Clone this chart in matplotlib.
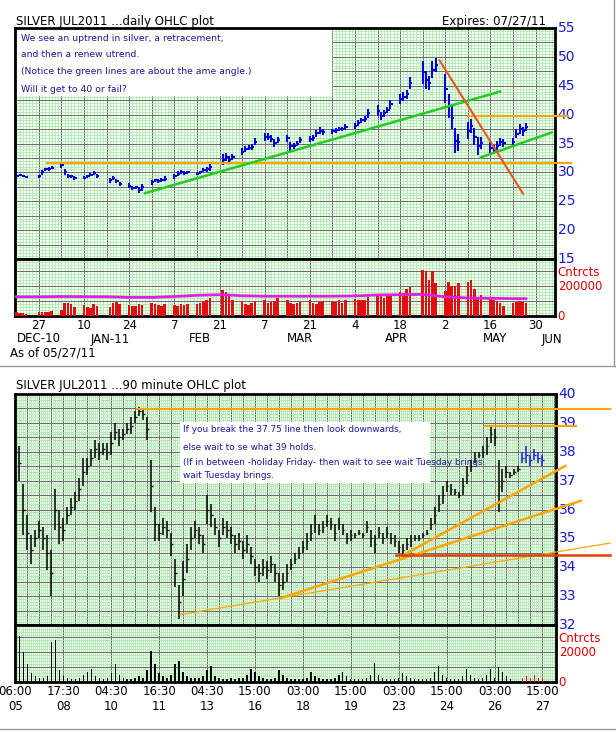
import matplotlib
matplotlib.use("Agg")
import matplotlib.pyplot as plt
import matplotlib.transforms as mtransforms
from matplotlib.ticker import MultipleLocator
import pandas as pd
import numpy as np

W, H = 616, 732
# ---------------- daily data ----------------
holidays = ["2010-12-24", "2011-01-17", "2011-02-21", "2011-04-22"]
dates = [d for d in pd.bdate_range("2010-12-20", "2011-05-27") if d.strftime("%Y-%m-%d") not in holidays]
daily_close = [29.4, 29.5, 29.4, 29.2,
               29.3, 30.0, 30.5, 30.6, 30.8,
               31.2, 30.0, 29.4, 29.3, 29.0,
               29.1, 29.3, 29.6, 29.9, 29.4,
               28.6, 29.0, 28.5, 28.0,
               27.7, 27.3, 27.4, 27.0, 27.4,
               28.3, 28.6, 28.5, 28.7, 28.9,
               29.3, 29.8, 30.1, 29.9, 30.0,
               29.8, 30.0, 30.4, 30.5, 30.9,
               32.2, 32.6, 32.2, 32.7,
               33.6, 34.0, 34.3, 34.4, 35.3,
               36.1, 36.2, 35.8, 35.1, 35.6,
               35.9, 34.5, 34.6, 35.0, 35.6,
               35.8, 36.0, 36.8, 37.2, 37.0,
               37.1, 37.3, 37.5, 37.5, 37.8,
               38.0, 38.6, 39.0, 39.2, 40.2,
               40.7, 39.8, 40.2, 40.8, 41.8,
               42.7, 43.1, 43.5, 45.5,
               47.3, 46.0, 45.5, 47.8, 48.6,
               44.5, 41.5, 39.5, 35.5, 35.2,
               37.2, 38.0, 36.2, 34.6, 35.1,
               34.2, 33.9, 34.6, 35.2, 35.1,
               35.2, 36.7, 37.5, 37.1, 37.9]
daily_half = [0.2, 0.2, 0.2, 0.2,
              0.3, 0.4, 0.3, 0.3, 0.3,
              0.5, 0.5, 0.4, 0.3, 0.3,
              0.3, 0.3, 0.3, 0.3, 0.4,
              0.5, 0.4, 0.4, 0.4,
              0.4, 0.4, 0.3, 0.5, 0.6,
              0.4, 0.3, 0.3, 0.3, 0.4,
              0.4, 0.4, 0.3, 0.3, 0.3,
              0.3, 0.3, 0.3, 0.4, 0.7,
              0.9, 0.7, 0.6, 0.5,
              0.6, 0.5, 0.5, 0.5, 0.6,
              0.7, 0.6, 0.6, 0.7, 0.5,
              0.6, 0.8, 0.5, 0.5, 0.5,
              0.5, 0.5, 0.6, 0.6, 0.5,
              0.4, 0.4, 0.4, 0.4, 0.5,
              0.5, 0.5, 0.5, 0.5, 0.7,
              0.9, 0.7, 0.6, 0.6, 0.8,
              0.8, 0.8, 0.8, 1.0,
              2.0, 1.5, 1.2, 1.5, 1.2,
              2.5, 2.0, 2.0, 2.2, 1.5,
              1.5, 1.2, 1.5, 1.6, 1.0,
              1.0, 0.8, 0.8, 0.7, 0.7,
              0.7, 0.8, 0.9, 0.8, 0.7]
daily_vol = [25, 20, 22, 15,
             30, 25, 25, 28, 35,
             40, 90, 85, 80, 60,
             75, 60, 55, 80, 65,
             60, 90, 95, 80,
             75, 70, 70, 80, 75,
             85, 80, 75, 70, 80,
             75, 70, 80, 75, 80,
             80, 85, 100, 105, 120,
             175, 160, 140, 110,
             100, 80, 75, 90, 100,
             105, 90, 95, 100, 120,
             110, 90, 80, 90, 95,
             105, 85, 80, 95, 100,
             100, 95, 105, 90, 110,
             115, 110, 105, 110, 125,
             140, 140, 120, 140, 150,
             160, 155, 180, 195,
             310, 300, 240, 300, 220,
             170, 230, 200, 200, 220,
             225, 240, 180, 130, 140,
             120, 110, 100, 90, 70,
             90, 95, 100, 95, 90]
avg_dates = pd.to_datetime(["2010-12-20", "2010-12-27", "2011-01-03", "2011-01-10", "2011-01-18", "2011-01-24",
                            "2011-01-31", "2011-02-07", "2011-02-14", "2011-02-22", "2011-02-28", "2011-03-07",
                            "2011-03-14", "2011-03-21", "2011-03-28", "2011-04-04", "2011-04-11", "2011-04-18",
                            "2011-04-25", "2011-05-02", "2011-05-09", "2011-05-16", "2011-05-23", "2011-05-27"])
avg_vals = [128, 128, 130, 129, 128, 124, 124, 130, 138, 142, 135, 132,
            132, 132, 132, 134, 140, 142, 144, 128, 120, 118, 116, 116]

# ---------------- 90 minute data ----------------
m_close = [38.0, 37.6, 36.0, 35.2, 34.6, 35.0, 35.3, 35.0, 34.5, 33.8,
           36.0, 35.4, 35.3, 35.8, 36.1, 36.3, 36.7, 37.3, 37.5, 37.8,
           38.1, 38.0, 38.1, 38.0, 38.3, 38.7, 38.5, 38.6, 38.8, 38.9,
           39.2, 39.4, 39.3, 38.8, 36.8, 35.5, 35.2, 35.4, 35.3, 34.8,
           33.8, 32.8, 33.6, 34.3, 35.0, 35.3, 35.1, 34.8, 36.0, 35.8,
           35.4, 35.0, 35.4, 35.3, 35.1, 34.8, 34.9, 34.6, 34.8, 34.4,
           34.0, 33.8, 34.0, 33.9, 34.1, 33.8, 33.4, 33.5, 33.8, 34.1,
           34.3, 34.5, 34.7, 34.9, 35.2, 35.5, 35.3, 35.4, 35.6, 35.5,
           35.2, 35.5, 35.3, 35.0, 35.1, 35.1, 35.2, 35.1, 35.4, 35.0,
           34.8, 35.2, 35.0, 35.2, 35.0, 34.9, 34.7, 34.6, 34.8, 34.9,
           35.0, 35.0, 35.1, 35.2, 35.5, 35.8, 36.2, 36.5, 36.8, 36.7,
           36.6, 36.5, 36.8, 37.2, 37.5, 37.8, 37.9, 38.0, 38.2, 38.6,
           38.5, 36.8, 37.0, 37.3, 37.2, 37.3, 37.4, 37.8, 37.9, 37.7,
           37.9, 37.8, 37.7]
m_half = [0.25, 0.6, 0.9, 0.6, 0.5, 0.3, 0.3, 0.4, 0.6, 0.8,
          0.7, 0.6, 0.4, 0.3, 0.3, 0.3, 0.4, 0.5, 0.3, 0.3,
          0.3, 0.3, 0.2, 0.3, 0.4, 0.3, 0.3, 0.2, 0.2, 0.3,
          0.2, 0.15, 0.2, 0.4, 0.9, 0.6, 0.3, 0.3, 0.3, 0.4,
          0.5, 0.6, 0.6, 0.5, 0.4, 0.3, 0.3, 0.3, 0.5, 0.4,
          0.3, 0.3, 0.3, 0.3, 0.3, 0.3, 0.3, 0.3, 0.3, 0.3,
          0.3, 0.3, 0.3, 0.3, 0.3, 0.3, 0.4, 0.3, 0.3, 0.2,
          0.2, 0.2, 0.2, 0.3, 0.3, 0.3, 0.2, 0.2, 0.2, 0.2,
          0.3, 0.2, 0.2, 0.2, 0.2, 0.1, 0.1, 0.1, 0.2, 0.3,
          0.3, 0.2, 0.2, 0.2, 0.2, 0.2, 0.2, 0.2, 0.2, 0.2,
          0.1, 0.1, 0.1, 0.1, 0.2, 0.3, 0.3, 0.3, 0.2, 0.2,
          0.1, 0.1, 0.3, 0.3, 0.2, 0.2, 0.1, 0.2, 0.3, 0.3,
          0.3, 0.9, 0.4, 0.2, 0.1, 0.1, 0.1, 0.2, 0.3, 0.2,
          0.2, 0.2, 0.2]
m_vol = [8, 31, 20, 12, 6, 4, 3, 3, 4, 27,
         28, 8, 4, 3, 2, 2, 3, 5, 7, 9,
         4, 3, 2, 3, 6, 12, 5, 3, 2, 2,
         3, 4, 3, 8, 21, 12, 6, 4, 3, 5,
         12, 14, 7, 4, 3, 3, 3, 4, 8, 11,
         4, 3, 2, 2, 3, 2, 3, 3, 5, 9,
         7, 4, 3, 2, 2, 3, 8, 5, 3, 2,
         2, 2, 2, 3, 7, 4, 3, 2, 2, 2,
         3, 5, 7, 4, 2, 2, 2, 2, 3, 5,
         13, 5, 3, 2, 2, 2, 3, 6, 4, 3,
         2, 2, 2, 2, 3, 7, 11, 5, 3, 2,
         2, 2, 4, 9, 5, 3, 2, 3, 5, 9,
         3, 10, 7, 4, 2, 1, 1, 3, 4, 3,
         5, 3, 2]
m_labels = ["06:00\n05", "17:30\n08", "04:30\n10", "16:30\n11", "04:30\n13", "15:00\n16",
            "03:00\n18", "15:00\n19", "03:00\n23", "15:00\n24", "03:00\n26", "15:00\n27"]

top_day_ticks = [0, 14, 28, 42, 56, 70, 84, 98, 112, 126, 140, 154]
top_day_labels = ["27", "10", "24", "7", "21", "7", "21", "4", "18", "2", "16", "30"]
month_labels = ["DEC-10", "JAN-11", "FEB", "MAR", "APR", "MAY", "JUN"]
month_pos = [0, 22, 50, 81, 111, 141.5, 159]

BLUE_T = "#1a1ad0"
fig = plt.figure(figsize=(W / 100, H / 100), dpi=100)
fig.patch.set_facecolor("white")

def rect(x0, y0, x1, y1):
    return [x0 / W, 1 - y1 / H, (x1 - x0) / W, (y1 - y0) / H]

def style(ax, xmaj, xmin, ymaj, ymin):
    ax.set_facecolor("#f4fff4")
    ax.xaxis.set_major_locator(MultipleLocator(xmaj))
    ax.xaxis.set_minor_locator(MultipleLocator(xmin))
    ax.yaxis.set_major_locator(MultipleLocator(ymaj))
    ax.yaxis.set_minor_locator(MultipleLocator(ymin))
    ax.grid(which="minor", color="#a6e6a6", lw=0.5)
    ax.grid(which="major", color="#6a6a6a", lw=0.7)
    ax.set_axisbelow(True)
    ax.tick_params(which="both", length=0, labelleft=False, labelbottom=False)
    for s in ax.spines.values():
        s.set_linewidth(2)
        s.set_color("black")

def rlabels(ax, vals, texts, color, size=9):
    tr = mtransforms.blended_transform_factory(ax.transAxes, ax.transData)
    for v, t in zip(vals, texts):
        ax.text(1.005, v, t, transform=tr, color=color, fontsize=size, va="center", ha="left")

# ===== TOP =====
xd = np.array([(d - pd.Timestamp("2010-12-27")).days for d in dates])
ax1 = fig.add_axes(rect(15, 28, 555, 259))
style(ax1, 7, 1, 2.5, 0.5)
ax1.set_xlim(-7.4, 160)
ax1.set_ylim(15, 55)
c = np.array(daily_close); h = np.array(daily_half)
ax1.vlines(xd, c - h, c + h, color="#0000dd", lw=1.5, zorder=3)
ax1.hlines(c, xd, xd + 0.7, color="#0000dd", lw=1.5, zorder=3)
rlabels(ax1, range(15, 56, 5), [str(v) for v in range(15, 56, 5)], BLUE_T, 10)
ax1.add_patch(plt.Rectangle((0, 0.71), 0.585, 0.29, transform=ax1.transAxes, color="white", zorder=2))
notes = ["We see an uptrend in silver, a retracement,", "and then a renew utrend.",
         "(Notice the green lines are about the ame angle.)", "Will it get to 40 or fail?"]
for t, yy in zip(notes, [0.955, 0.885, 0.81, 0.735]):
    ax1.text(0.012, yy, t, transform=ax1.transAxes, fontsize=6.7, color="#1a1a9a", zorder=4, va="center")
ax1.plot([2.4, 165], [31.7, 31.7], color="#ffa500", lw=1.5, clip_on=False, zorder=4)
ax1.plot([133, 164], [39.8, 39.8], color="#ffa500", lw=1.5, clip_on=False, zorder=4)
ax1.plot([32.9, 143.0], [26.4, 44.0], color="#22cc22", lw=1.8, zorder=4)
ax1.plot([137, 158.9], [32.6, 36.9], color="#22cc22", lw=1.8, zorder=4)
ax1.plot([124.2, 150.1], [49.4, 26.3], color="#e05a20", lw=1.5, zorder=4)
fig.text(16 / W, 1 - 21 / H, "SILVER JUL2011 ...daily OHLC plot", fontsize=8.5, va="center")
fig.text(546 / W, 1 - 21 / H, "Expires: 07/27/11", fontsize=8.5, va="center", ha="right")

ax2 = fig.add_axes(rect(15, 259, 555, 316))
style(ax2, 7, 1, 100000, 20000)
ax2.set_xlim(-7.4, 160)
ax2.set_ylim(0, 380000)
ax2.bar(xd, np.array(daily_vol) * 1000, width=0.8, color="#e01010", zorder=3)
ax2.plot((avg_dates - pd.Timestamp("2010-12-27")).days, np.array(avg_vals) * 1000, color="#dd22dd", lw=2, zorder=4)
rlabels(ax2, [200000, 0], ["200000", "0"], "#e00000", 8.5)
tr2 = mtransforms.blended_transform_factory(ax2.transAxes, ax2.transData)
ax2.text(1.005, 290000, "Cntrcts", transform=tr2, color="#e00000", fontsize=8.5, va="center")
ax2.set_xticks(top_day_ticks)
ax2.set_xticklabels(top_day_labels)
ax2.tick_params(labelbottom=True, labelsize=8.5, pad=2)
trx = mtransforms.blended_transform_factory(ax2.transData, fig.transFigure)
for p, t in zip(month_pos, month_labels):
    ax2.text(p, 1 - 339 / H, t, transform=trx, fontsize=8.5, ha="center", va="center")
fig.text(10 / W, 1 - 353 / H, "As of 05/27/11", fontsize=8.5, va="center")
fig.add_artist(plt.Line2D([0, 1], [1 - 366 / H] * 2, color="#999999", lw=1))
fig.add_artist(plt.Line2D([614 / W] * 2, [1 - 366 / H, 1], color="#999999", lw=1))

# ===== BOTTOM =====
n = len(m_close)
xi = np.arange(n)
ax3 = fig.add_axes(rect(15, 394, 556, 625))
style(ax3, 3, 0.5, 0.5, 0.1)
ax3.set_xlim(-0.1, 135.4)
ax3.set_ylim(32, 40)
mc = np.array(m_close); mh = np.array(m_half)
cols = ["black"] * 127 + ["#1a1ae0"] * (n - 127)
ax3.vlines(xi, mc - mh, mc + mh, color=cols, lw=1.1, zorder=3)
ax3.hlines(mc, xi, xi + 0.4, color=cols, lw=1.0, zorder=3)
rlabels(ax3, range(32, 41), [str(v) for v in range(32, 41)], BLUE_T, 10)
ax3.add_patch(plt.Rectangle((0.305, 0.62), 0.46, 0.26, transform=ax3.transAxes, color="white", zorder=2))
notes2 = ["If you break the 37.75 line then look downwards,", "else wait to se what 39 holds.",
          "(If in between -holiday Friday- then wait to see wait Tuesday brings.", "wait Tuesday brings."]
for t, yy in zip(notes2, [0.845, 0.77, 0.705, 0.648]):
    ax3.text(0.31, yy, t, transform=ax3.transAxes, fontsize=6.4, color="#1a1a9a", zorder=5, va="center")
ax3.plot([30.5, 149], [39.47, 39.47], color="#ffa500", lw=1.5, clip_on=False, zorder=4)
ax3.plot([117.5, 140.5], [38.9, 38.9], color="#ffa500", lw=1.5, clip_on=False, zorder=4)
ax3.plot([41.3, 149], [32.36, 34.84], color="#ffa500", lw=0.9, clip_on=False, zorder=4)
ax3.plot([66.4, 141.6], [32.93, 36.3], color="#ffa500", lw=1.8, clip_on=False, zorder=4)
ax3.plot([97.3, 137.7], [34.43, 37.51], color="#ffa500", lw=1.8, clip_on=False, zorder=4)
ax3.plot([95.4, 149], [34.41, 34.41], color="#e04000", lw=1.8, clip_on=False, zorder=4)
fig.text(16 / W, 1 - 386 / H, "SILVER JUL2011 ...90 minute OHLC plot", fontsize=8.5, va="center")

ax4 = fig.add_axes(rect(15, 625, 556, 682))
style(ax4, 3, 0.5, 10000, 2000)
ax4.set_xlim(-0.1, 135.4)
ax4.set_ylim(0, 38400)
vcols = ["black"] * 127 + ["#e01010"] * (n - 127)
ax4.bar(xi, np.array(m_vol) * 1000, width=0.35, color=vcols, zorder=3)
rlabels(ax4, [20000, 0], ["20000", "0"], "#e00000", 8.5)
tr4 = mtransforms.blended_transform_factory(ax4.transAxes, ax4.transData)
ax4.text(1.005, 29500, "Cntrcts", transform=tr4, color="#e00000", fontsize=8.5, va="center")
ax4.set_xticks(np.arange(0, 12) * 12)
ax4.set_xticklabels(m_labels)
ax4.tick_params(labelbottom=True, labelsize=8.5, pad=2)
fig.add_artist(plt.Line2D([0, 1], [1 - 729 / H] * 2, color="#999999", lw=1))

fig.savefig("out.png", dpi=100)
